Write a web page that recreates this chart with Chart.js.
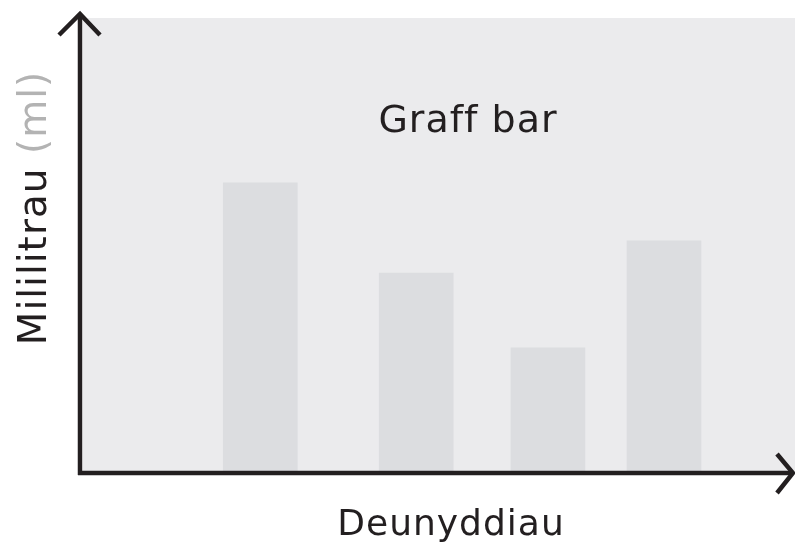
<!DOCTYPE html>
<html>
<head>
<meta charset="utf-8">
<script src="https://cdn.jsdelivr.net/npm/chart.js@4"></script>
<style>
  html, body { margin: 0; padding: 0; background: #ffffff; }
  #wrap { width: 795px; height: 545px; }
</style>
</head>
<body>
<div id="wrap"><canvas id="graff"></canvas></div>
<script>
// data
const barPositions = [24.9, 46.8, 65.3, 81.6];
const barValues = [6.36, 4.37, 2.72, 5.08];
const chartTitle = 'Graff bar';
const xLabel = 'Deunyddiau';
const yLabel = 'Mililitrau';
const yUnit = '(ml)';

const FONT = '"DejaVu Sans", sans-serif';
const INK = '#231f20';

const axesPlugin = {
  id: 'axesPlugin',
  beforeDraw(chart) {
    const { ctx, chartArea } = chart;
    ctx.save();
    ctx.fillStyle = '#ebebed';
    ctx.fillRect(chartArea.left, chartArea.top, chartArea.right - chartArea.left, chartArea.bottom - chartArea.top);
    ctx.restore();
  },
  afterDraw(chart) {
    const { ctx, chartArea } = chart;
    const x0 = chartArea.left - 3;
    const y0 = chartArea.bottom + 2;
    ctx.save();
    ctx.strokeStyle = INK;
    ctx.lineWidth = 4.5;
    ctx.lineCap = 'butt';
    // y axis
    ctx.beginPath();
    ctx.moveTo(x0, y0 + 2);
    ctx.lineTo(x0, 14);
    ctx.stroke();
    ctx.beginPath();
    ctx.moveTo(x0 - 21, 35);
    ctx.lineTo(x0, 14);
    ctx.lineTo(x0 + 20, 35);
    ctx.stroke();
    // x axis
    ctx.beginPath();
    ctx.moveTo(x0 - 2, y0);
    ctx.lineTo(793, y0);
    ctx.stroke();
    ctx.beginPath();
    ctx.moveTo(777, y0 - 19);
    ctx.lineTo(793, y0);
    ctx.lineTo(777, y0 + 20);
    ctx.stroke();

    ctx.fillStyle = INK;
    ctx.textAlign = 'center';
    ctx.textBaseline = 'alphabetic';

    // title
    ctx.font = '38px ' + FONT;
    ctx.letterSpacing = '1px';
    ctx.fillText(chartTitle, 468, 132);

    // x label
    ctx.font = '36px ' + FONT;
    ctx.letterSpacing = '1px';
    ctx.fillText(xLabel, 451, 535);

    // y label, two colours
    ctx.translate(46, 208);
    ctx.rotate(-Math.PI / 2);
    ctx.font = '39px ' + FONT;
    ctx.letterSpacing = '1px';
    const gap = ' ';
    const w1 = ctx.measureText(yLabel + gap).width;
    const w2 = ctx.measureText(yUnit).width;
    const start = -(w1 + w2) / 2;
    ctx.textAlign = 'left';
    ctx.fillStyle = INK;
    ctx.fillText(yLabel + gap, start, 0);
    ctx.fillStyle = '#b3b3b3';
    ctx.fillText(yUnit, start + w1, 0);
    ctx.restore();
  }
};

const data = {
  datasets: [
    {
      label: chartTitle,
      data: barPositions.map((x, i) => ({ x: x, y: barValues[i] })),
      backgroundColor: '#dcdde0',
      borderWidth: 0,
      barThickness: 74,
    },
  ],
};

const config = {
  type: 'bar',
  data: data,
  options: {
    responsive: true,
    maintainAspectRatio: false,
    animation: false,
    layout: {
      padding: { left: 83, right: 0, top: 18, bottom: 74 }
    },
    scales: {
      x: { type: 'linear', min: 0, max: 100, offset: false, display: false },
      y: { min: 0, max: 10, display: false }
    },
    plugins: {
      legend: { display: false },
      tooltip: { enabled: false },
    }
  },
  plugins: [axesPlugin]
};

const ctx = document.getElementById('graff');
new Chart(ctx, config);
</script>
</body>
</html>
